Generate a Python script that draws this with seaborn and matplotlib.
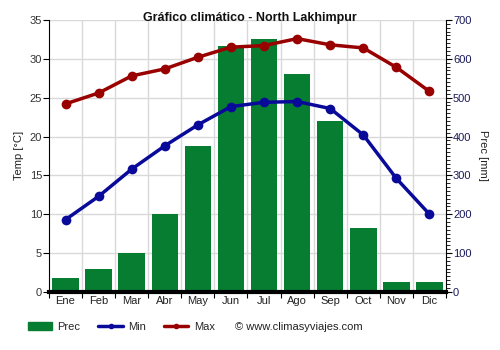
import numpy as np
import pandas as pd
import matplotlib
matplotlib.use("Agg")
import matplotlib.pyplot as plt
from matplotlib.lines import Line2D
from matplotlib.patches import Patch
from matplotlib.ticker import MultipleLocator, FixedLocator, NullFormatter
import seaborn as sns

months = ["Ene", "Feb", "Mar", "Abr", "May", "Jun", "Jul", "Ago", "Sep", "Oct", "Nov", "Dic"]
prec = [36, 59, 100, 200, 375, 634, 650, 560, 440, 165, 26, 26]
tmin = [9.3, 12.3, 15.8, 18.8, 21.5, 23.85, 24.4, 24.5, 23.6, 20.2, 14.6, 10.0]
tmax = [24.2, 25.6, 27.8, 28.7, 30.2, 31.5, 31.7, 32.6, 31.8, 31.4, 28.9, 25.8]

sns.set_style("white")
plt.rcParams["font.family"] = ["Liberation Sans", "DejaVu Sans"]
plt.rcParams["font.size"] = 8

idx = np.arange(len(months))
df = pd.DataFrame({"i": idx, "Prec": prec, "Min": tmin, "Max": tmax})

fig = plt.figure(figsize=(5, 3.5), dpi=100)
axp = fig.add_axes([0.098, 0.166, 0.794, 0.777])  # precipitation (drawn behind)
axt = axp.twinx()  # temperature (drawn on top)

green = "#077d32"
blue = "#0a0a9a"
red = "#990000"

sns.barplot(data=df, x="i", y="Prec", ax=axp, color=green, width=0.8,
            native_scale=True, saturation=1, zorder=2, linewidth=0, edgecolor=green)
axp.set_ylim(0, 700)
axp.set_xlim(-0.5, 11.5)

sns.lineplot(data=df, x="i", y="Min", ax=axt, color=blue, lw=2.5, marker="o",
             markersize=7, markeredgewidth=0, zorder=3)
sns.lineplot(data=df, x="i", y="Max", ax=axt, color=red, lw=2.5, marker="o",
             markersize=7, markeredgewidth=0, zorder=3)
axt.set_ylim(0, 35)
axt.set_xlim(-0.5, 11.5)

# swap sides: temperature on the left, precipitation on the right
axt.yaxis.tick_left()
axt.yaxis.set_label_position("left")
axp.yaxis.tick_right()
axp.yaxis.set_label_position("right")

axt.set_yticks(np.arange(0, 36, 5))
axt.set_ylabel("Temp [°C]", color="#222222", fontsize=8)
axp.set_ylabel("Prec [mm]", color="#222222", fontsize=8, rotation=270, labelpad=12)
axp.set_yticks(np.arange(0, 701, 100))
axp.yaxis.set_minor_locator(MultipleLocator(10))
axp.tick_params(axis="y", which="major", length=4, color="black", labelsize=8,
                labelcolor="#1a1a5a", pad=1)
axp.tick_params(axis="y", which="minor", length=3, color="black")
axt.tick_params(axis="y", length=4, color="black", labelsize=8, labelcolor="#333333", pad=1)

# gridlines
axp.grid(False)
axt.grid(False)
for y in np.arange(5, 36, 5):
    axp.axhline(y * 20, color="#d9d9d9", lw=1, zorder=0)
for xb in np.arange(0.5, 11.5, 1):
    axp.axvline(xb, color="#d9d9d9", lw=1, zorder=0)

# x ticks: marks at boundaries, labels at centers
axp.xaxis.set_major_locator(FixedLocator(np.arange(-0.5, 12, 1)))
axp.xaxis.set_major_formatter(NullFormatter())
axp.set_xticks(idx, minor=True)
axp.set_xticklabels(months, minor=True)
axp.tick_params(axis="x", which="major", length=4, color="black", bottom=True)
axp.tick_params(axis="x", which="minor", length=0, labelsize=8, labelcolor="#222222", pad=3)
axp.set_xlabel("")
axt.set_xlabel("")
axt.tick_params(axis="x", bottom=False, labelbottom=False)

for ax in (axp, axt):
    for s in ax.spines.values():
        s.set_visible(False)
axt.spines["left"].set_visible(True)
axt.spines["left"].set_color("black")
axp.spines["right"].set_visible(True)
axp.spines["right"].set_color("black")
axp.spines["bottom"].set_visible(True)
axp.spines["bottom"].set_color("black")
axp.spines["bottom"].set_linewidth(3)

fig.suptitle("Gráfico climático - North Lakhimpur", fontsize=9, fontweight="bold",
             y=0.965, color="#111111")

handles = [
    Patch(facecolor=green, edgecolor=green),
    Line2D([0], [0], color=blue, lw=2.5, marker="o", markersize=3),
    Line2D([0], [0], color=red, lw=2.5, marker="o", markersize=3),
]
fig.legend(handles, ["Prec", "Min", "Max"], loc="center left", bbox_to_anchor=(0.035, 0.066),
           ncol=3, frameon=False, fontsize=8, handlelength=2.2, columnspacing=1.6,
           handletextpad=0.5)
fig.text(0.47, 0.066, "© www.climasyviajes.com", fontsize=8, va="center", color="#222222")

fig.savefig("out.png", dpi=100)
